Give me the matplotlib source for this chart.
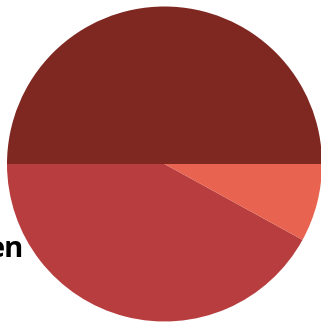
import matplotlib.pyplot as plt

# slice shares, counterclockwise from the east
shares = [50, 42, 8]
colors = ["#7f2822", "#b83d3e", "#e86450"]
label_text = "en"

fig = plt.figure(figsize=(3.21, 3.22), dpi=100)
ax = fig.add_axes([0, 0, 1, 1])
ax.set_xlim(0, 321)
ax.set_ylim(0, 322)
ax.set_aspect("equal")
ax.axis("off")

ax.pie(shares, colors=colors, startangle=0, counterclock=True,
       center=(164.5, 158), radius=157.5,
       wedgeprops={"linewidth": 0}, frame=True)
ax.set_xlim(0, 321)
ax.set_ylim(0, 322)
ax.axis("off")

# leftover label, mostly outside the canvas
ax.text(24, 65, label_text, ha="right", va="baseline",
        fontsize=21, fontweight="bold", family="Open Sans", color="black", zorder=0)

fig.savefig("out.png", dpi=100)
